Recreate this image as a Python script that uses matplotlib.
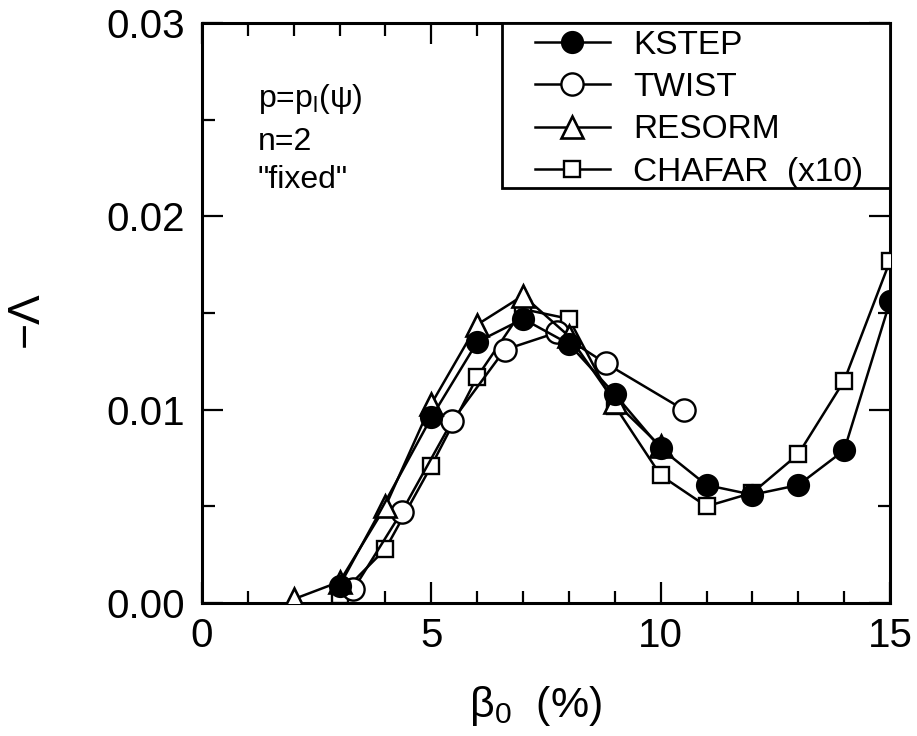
import numpy as np
import matplotlib
matplotlib.use('Agg')
import matplotlib.pyplot as plt
from matplotlib.ticker import MultipleLocator
from matplotlib.patches import Rectangle

plt.rcParams['font.family'] = ['Liberation Sans', 'DejaVu Sans']
plt.rcParams['mathtext.fontset'] = 'custom'
plt.rcParams['mathtext.rm'] = 'Liberation Sans'

# values (beta_0 in %, -Lambda)
kstep_beta = [3, 5, 6, 7, 8, 9, 10, 11, 12, 13, 14, 15]
kstep_lam = [0.0009, 0.0096, 0.0135, 0.0147, 0.0134, 0.0108, 0.0080, 0.0061, 0.0056, 0.0061, 0.0079, 0.0156]

twist_beta = [3.3, 4.35, 5.45, 6.6, 7.75, 8.8, 10.5]
twist_lam = [0.0007, 0.0047, 0.0094, 0.0131, 0.0140, 0.0124, 0.0100]

resorm_beta = [2, 3, 4, 5, 6, 7, 8, 9, 10]
resorm_lam = [0.0002, 0.0011, 0.0050, 0.0103, 0.0144, 0.0159, 0.0138, 0.0104, 0.0081]

chafar_beta = [3, 4, 5, 6, 7, 8, 9, 10, 11, 12, 13, 14, 15]
chafar_lam = [0.0004, 0.0028, 0.0071, 0.0117, 0.0152, 0.0147, 0.0102, 0.0066, 0.0050, 0.0057, 0.0077, 0.0115, 0.0177]

y_ticks = [0.0, 0.01, 0.02, 0.03]
y_labels = ['0.00', '0.01', '0.02', '0.03']

fig = plt.figure(figsize=(9.17, 7.36), dpi=100)
ax = fig.add_axes([0.2203, 0.1807, 0.7503, 0.788])

lw = 1.8
ax.plot(chafar_beta, chafar_lam, '-s', color='k', lw=lw, ms=12, mfc='white', mew=1.7,
        label='CHAFAR  (x10)', zorder=3)
ax.plot(twist_beta, twist_lam, '-o', color='k', lw=lw, ms=16, mfc='white', mew=1.7,
        label='TWIST', zorder=4)
ax.plot(resorm_beta, resorm_lam, '-^', color='k', lw=lw, ms=16, mfc='white', mew=1.9,
        label='RESORM', zorder=5)
ax.plot(kstep_beta, kstep_lam, '-o', color='k', lw=lw, ms=15, mfc='black', mew=1.7,
        label='KSTEP', zorder=6)

ax.set_xlim(0, 15)
ax.set_ylim(0, 0.03)
ax.xaxis.set_major_locator(MultipleLocator(5))
ax.xaxis.set_minor_locator(MultipleLocator(1))
ax.yaxis.set_minor_locator(MultipleLocator(0.005))
ax.set_yticks(y_ticks)
ax.set_yticklabels(y_labels)

ax.tick_params(which='both', direction='in', top=True, right=True, width=1.6, labelsize=29)
ax.tick_params(which='major', length=15)
ax.tick_params(which='minor', length=9)
ax.tick_params(axis='x', pad=10)
ax.tick_params(axis='y', pad=12)
for s in ax.spines.values():
    s.set_linewidth(2.2)

ax.set_xlabel('β$\\mathregular{_0}$  (%)', fontsize=31)
ax.xaxis.set_label_coords(0.485, -0.14)
ax.set_ylabel('−Λ', fontsize=32)
ax.yaxis.set_label_coords(-0.226, 0.49)

ax.text(0.081, 0.869, 'p=p$\\mathregular{_l}$(ψ)', transform=ax.transAxes, fontsize=23, va='center')
ax.text(0.081, 0.795, 'n=2', transform=ax.transAxes, fontsize=23, va='center')
ax.text(0.081, 0.729, '"fixed"', transform=ax.transAxes, fontsize=23, va='center')

# legend box drawn separately so its padding can match the reference
ax.add_patch(Rectangle((0.436, 0.7155), 0.564, 0.2845, transform=ax.transAxes,
                       fill=True, facecolor='white', edgecolor='black', lw=2.0,
                       zorder=9, clip_on=False))

handles, labels = ax.get_legend_handles_labels()
order = [3, 1, 2, 0]
leg = ax.legend([handles[i] for i in order], [labels[i] for i in order],
                loc='upper left', bbox_to_anchor=(0.474, 1.0), borderaxespad=0,
                fontsize=24, frameon=False,
                handlelength=2.25, handletextpad=0.7, labelspacing=0.34, borderpad=0.2)
leg.set_zorder(10)

fig.savefig('out.png', dpi=100)
